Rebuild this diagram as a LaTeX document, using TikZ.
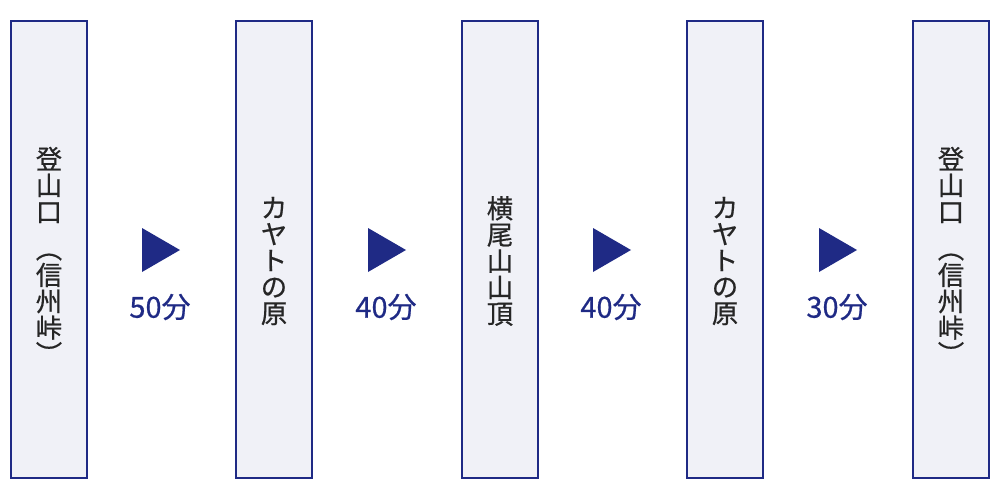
\documentclass[tikz,border=0pt]{standalone}
\usepackage{fontspec}
\newfontfamily\cjk[FakeBold=0.6]{Noto Sans CJK JP}
\definecolor{bd}{HTML}{1F2A85}
\definecolor{bf}{HTML}{F0F1F7}
\newcommand{\rp}[1]{\rotatebox[origin=c]{-90}{#1}}
\begin{document}
\begin{tikzpicture}[x=0.02cm,y=-0.02cm,
  box/.style={draw=bd,fill=bf,line width=0.9pt,minimum width=76*0.02cm,minimum height=457*0.02cm,inner sep=0pt},
  vt/.style={font=\cjk\fontsize{15}{15}\selectfont,align=center,text=black!85},
  tri/.style={fill=bd},
  lab/.style={font=\cjk\fontsize{16.5}{17}\selectfont,text=bd}]
\useasboundingbox (0,0) rectangle (1000,500);
\node[box] (b1) at (49,249.5) {};
\node[box] (b2) at (274,249.5) {};
\node[box] (b3) at (500,249.5) {};
\node[box] (b4) at (725,249.5) {};
\node[box] (b5) at (951,249.5) {};
\node[vt] (t1) at (49,257) {登\\山\\口\\[6pt]\rp{（}\\信\\州\\峠\\\rp{）}};
\node[vt] (t2) at (274,261) {カ\\ヤ\\ト\\の\\原};
\node[vt] (t3) at (500,261) {横\\尾\\山\\山\\頂};
\node[vt] (t4) at (725,261) {カ\\ヤ\\ト\\の\\原};
\node[vt] (t5) at (951,257) {登\\山\\口\\[6pt]\rp{（}\\信\\州\\峠\\\rp{）}};
\foreach \i/\x/\t in {1/142/50,2/368/40,3/593/40,4/819/30}{
  \fill[tri] (\x,228) coordinate (a\i) -- (\x+38,250) -- (\x,272) -- cycle;
  \node[lab] (l\i) at (\x+18,307) {\t 分};
}
\end{tikzpicture}
\end{document}
